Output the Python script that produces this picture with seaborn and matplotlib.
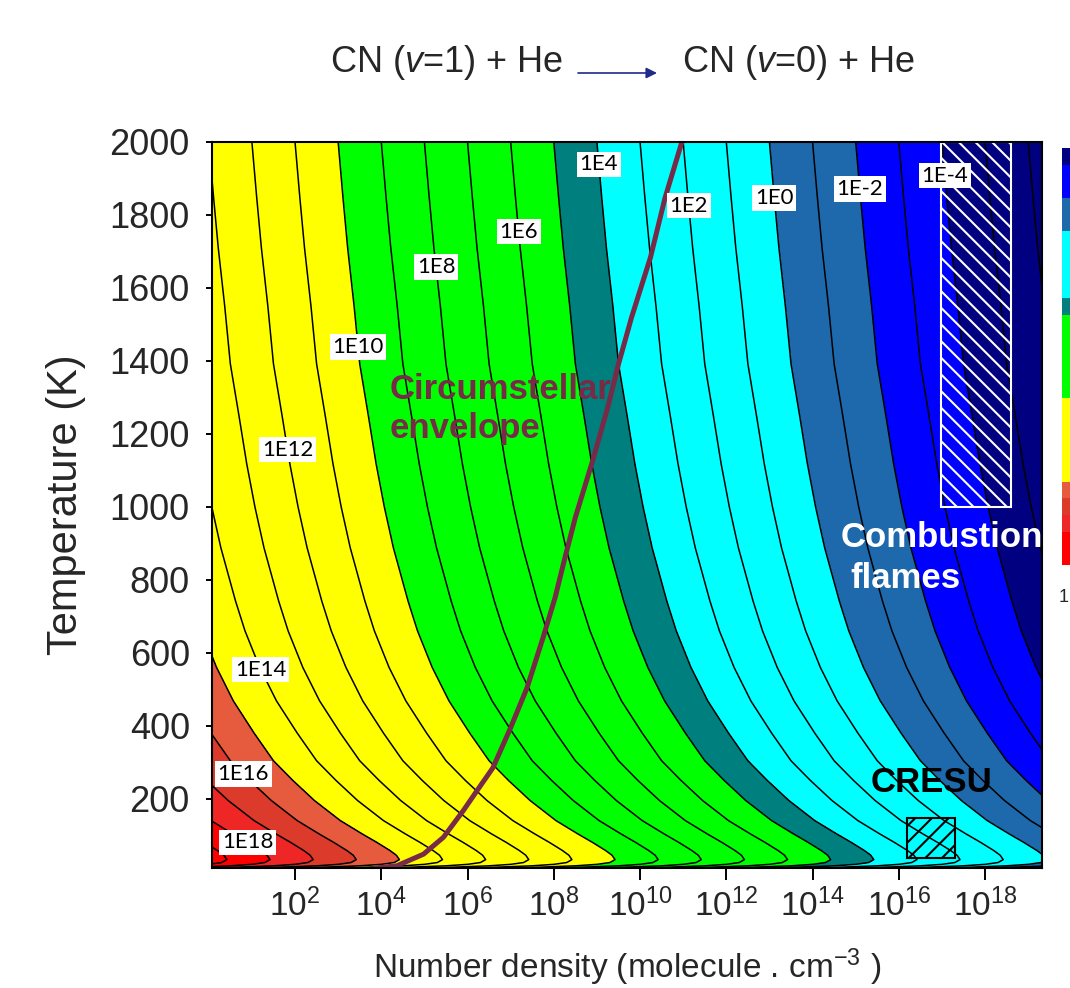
import numpy as np
import matplotlib
matplotlib.use("Agg")
import matplotlib.pyplot as plt
import seaborn as sns
from matplotlib.colors import ListedColormap, BoundaryNorm
from matplotlib.cm import ScalarMappable
from matplotlib.patches import Rectangle

# ---------------- data ----------------
# rate coefficient of CN(v=1) + He -> CN(v=0) + He (log10, cm3 s-1) vs temperature
temperature_K = [10, 12, 16, 20, 25, 33, 45, 58, 80, 104, 140, 195, 250, 304, 380,
                 468, 560, 660, 742, 888, 1000, 1118, 1250, 1392, 1550, 1710, 1850, 2000]
log10_k = [-17.0, -17.6, -18.5, -19.0, -19.3, -19.42, -19.35, -19.2, -18.9, -18.55,
           -18.05, -17.45, -16.95, -16.5, -16.05, -15.57, -15.18, -14.84, -14.62,
           -14.28, -14.07, -13.88, -13.70, -13.50, -13.37, -13.22, -13.11, -13.0]

# contour levels: log10 of relaxation time 1/(k n)
band_levels = list(range(-7, 22))
band_colors = (["#000080"] * 3 + ["#0000FF"] * 2 + ["#1E68AC"] * 2 + ["#00FFFF"] * 4 +
               ["#007F7F"] + ["#00FF00"] * 5 + ["#FFFF00"] * 5 +
               ["#E65A3E", "#DC3B2B", "#EE2626"] + ["#FF0000"] * 3)

label_levels = [18, 16, 14, 12, 10, 8, 6, 4, 2, 0, -2, -4]
label_positions = [(0.91, 82), (0.80, 268), (1.35, 562), (1.79, 1156), (3.25, 1436),
                   (5.11, 1655), (6.89, 1751), (9.35, 1942), (11.07, 1825),
                   (13.20, 1847), (14.55, 1866), (17.02, 1907)]

# circumstellar envelope track (log10 n, T)
envelope_log_n = [3.85, 4.36, 4.98, 5.44, 5.90, 6.22, 6.59, 6.99, 7.38, 7.75, 8.03,
                  8.26, 8.50, 8.90, 9.25, 9.50, 9.80, 10.24, 10.58, 10.97]
envelope_T = [10, 16, 48, 94, 167, 222, 285, 392, 504, 641, 751, 861, 971, 1126,
              1272, 1391, 1518, 1683, 1847, 2000]

combustion_log_n = (16.98, 18.60)
combustion_T = (1000, 2000)
cresu_log_n = (16.20, 17.30)
cresu_T = (38, 148)

xtick_exponents = [2, 4, 6, 8, 10, 12, 14, 16, 18]
ytick_values = [200, 400, 600, 800, 1000, 1200, 1400, 1600, 1800, 2000]

# ---------------- style ----------------
sns.set_theme(style="ticks")
plt.rcParams["font.family"] = ["Liberation Sans", "DejaVu Sans"]
plt.rcParams["mathtext.fontset"] = "custom"
plt.rcParams["mathtext.rm"] = "Liberation Sans"
plt.rcParams["mathtext.it"] = "Liberation Sans:italic"
plt.rcParams["hatch.linewidth"] = 1.5
plt.rcParams["contour.negative_linestyle"] = "solid"

W, H = 1070, 988
fig = plt.figure(figsize=(W / 100, H / 100), dpi=100)
fig.patch.set_facecolor("white")
ax = fig.add_axes([212 / W, 1 - 868 / H, 830 / W, 726 / H])

log_n_axis = np.linspace(0, 19.5, 40)
N, LK = np.meshgrid(log_n_axis, log10_k)
_, TT = np.meshgrid(log_n_axis, temperature_K)
Z = -(N + LK)

ax.contourf(N, TT, Z, levels=band_levels, colors=band_colors, zorder=1)
ax.contour(N, TT, Z, levels=band_levels, colors="black", linewidths=1.1,
           linestyles="solid", zorder=2)

# separate (invisible) contour set holding only the labelled levels
cs_lab = ax.contour(N, TT, Z, levels=sorted(label_levels), colors="black",
                    linewidths=0.0, zorder=2)
cl = ax.clabel(cs_lab, manual=label_positions, inline=False,
               fmt=lambda v: f"1E{int(round(v))}", fontsize=16, colors="black")
for t in cl:
    t.set_rotation(0)
    t.set_fontfamily("Lato")
    t.set_zorder(6)
    t.set_bbox(dict(boxstyle="square,pad=0.12", fc="white", ec="none"))

sns.lineplot(x=envelope_log_n, y=envelope_T, sort=False, estimator=None,
             color="#772B47", linewidth=3.6, ax=ax, zorder=4)

ax.add_patch(Rectangle((combustion_log_n[0], combustion_T[0]),
                       combustion_log_n[1] - combustion_log_n[0],
                       combustion_T[1] - combustion_T[0],
                       fill=False, edgecolor="white", hatch="\\\\", lw=1.5, zorder=3))
ax.add_patch(Rectangle((cresu_log_n[0], cresu_T[0]),
                       cresu_log_n[1] - cresu_log_n[0], cresu_T[1] - cresu_T[0],
                       fill=False, edgecolor="black", hatch="//", lw=1.5, zorder=3))

ax.text(4.20, 1367, "Circumstellar\nenvelope", color="#772B47", fontsize=25,
        fontweight="bold", ha="left", va="top", linespacing=1.25, zorder=5)
ax.text(14.65, 915, "Combustion", color="white", fontsize=25, fontweight="bold",
        ha="left", va="center", zorder=5)
ax.text(14.87, 803, "flames", color="white", fontsize=25, fontweight="bold",
        ha="left", va="center", zorder=5)
ax.text(16.75, 244, "CRESU", color="black", fontsize=25, fontweight="bold",
        ha="center", va="center", zorder=5)

ax.set_xlim(0.075, 19.32)
ax.set_ylim(10, 2000)
ax.set_xticks(xtick_exponents)
ax.set_xticklabels([rf"$\mathregular{{10^{{{e}}}}}$" for e in xtick_exponents])
ax.set_yticks(ytick_values)
ax.set_yticklabels([str(v) for v in ytick_values])
ax.tick_params(axis="x", direction="out", length=8.6, width=1.4, pad=6,
               labelsize=24, color="black")
ax.tick_params(axis="y", direction="out", length=4, width=1.4, pad=12,
               labelsize=26, color="black")
for s in ax.spines.values():
    s.set_linewidth(1.5)
    s.set_color("black")
    s.set_zorder(7)

ax.set_xlabel(r"Number density (molecule . cm$^{\mathregular{-3}}$ )", fontsize=24)
ax.set_ylabel("Temperature (K)", fontsize=30)
ax.xaxis.set_label_coords(0.5, (868 - 946) / 726)
ax.yaxis.set_label_coords((86 - 212) / 830, 0.5)

# title
fig.text(330 / W, 1 - 63 / H, r"CN ($\mathit{v}$=1) + He", fontsize=26, va="center",
         ha="left")
fig.text(682 / W, 1 - 62 / H, r"CN ($\mathit{v}$=0) + He", fontsize=26, va="center",
         ha="left")
ax.annotate("", xy=(657 / W, 1 - 73 / H), xytext=(578 / W, 1 - 73 / H),
            xycoords="figure fraction", textcoords="figure fraction",
            arrowprops=dict(arrowstyle="-|>", color="#1F2A8A", lw=1.2,
                            mutation_scale=16, shrinkA=0, shrinkB=0))

# colour scale (cut by the right edge of the picture): navy on top, red at bottom
cb_colors = band_colors[2:27]
cmap = ListedColormap(cb_colors)
norm = BoundaryNorm(list(range(-5, 21)), cmap.N)
cax = fig.add_axes([1062 / W, 1 - 565 / H, 0.06, 417 / H])
cb = fig.colorbar(ScalarMappable(norm=norm, cmap=cmap), cax=cax)
cb.outline.set_visible(False)
cb.set_ticks([])
cax.invert_yaxis()
fig.text(1069 / W, 1 - 598 / H, "1", fontsize=13, va="center", ha="right")

fig.savefig("out.png", dpi=100)
